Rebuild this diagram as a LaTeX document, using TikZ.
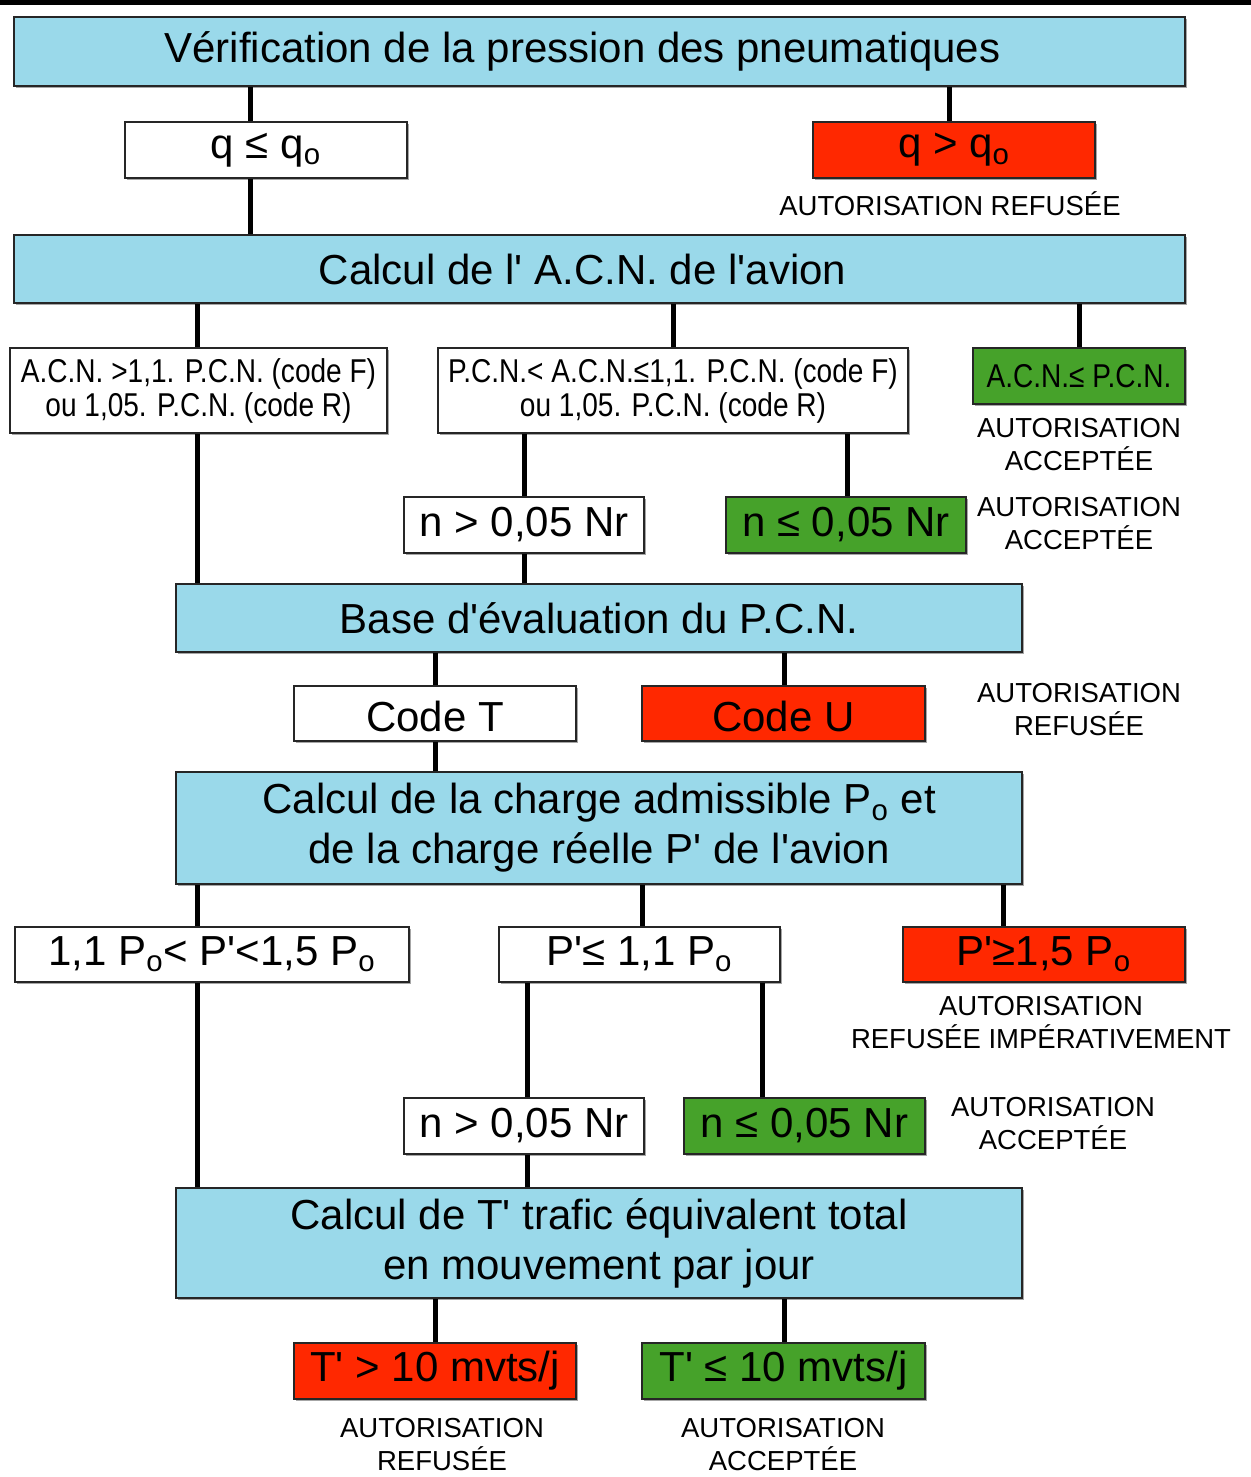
\documentclass[tikz,border=0pt]{standalone}
\usepackage{fontspec}
\newfontfamily\helv{Liberation Sans}
\newfontfamily\helvnarrow{Liberation Sans}[FakeStretch=0.85]
\usetikzlibrary{shadows}

\definecolor{titleblue}{RGB}{154,217,234}
\definecolor{refusred}{RGB}{255,40,0}
\definecolor{acceptgreen}{RGB}{70,162,42}

\tikzset{
  box/.style={draw=black!85, line width=1pt, inner sep=0pt, align=center,
    drop shadow={shadow xshift=0.8pt, shadow yshift=-0.8pt, fill=black!50, opacity=0.7}},
  wh/.style 2 args={minimum width=#1*0.5pt, minimum height=#2*0.5pt},
  titlebox/.style={box, fill=titleblue, font=\helv\fontsize{21}{25}\selectfont},
  cond/.style={box, fill=white, font=\helv\fontsize{21}{25}\selectfont},
  smallcond/.style={box, fill=white, font=\helvnarrow\fontsize{16.5}{17}\selectfont},
  refus/.style={fill=refusred},
  accept/.style={fill=acceptgreen},
  verdict/.style={align=center, inner sep=0pt, font=\helv\fontsize{13.75}{16.5}\selectfont},
  link/.style={line width=2.5pt}
}

\begin{document}
\begin{tikzpicture}[x=0.5pt, y=-0.5pt]
  \useasboundingbox (0,0) rectangle (1251,1477);
  % Top rule
  \fill[black] (0,0) rectangle (1251,5);

  % Tyre pressure
  \node[titlebox, wh={1171}{69}] (tit1) at (599.5,51.5) {\hspace*{-17pt}Vérification de la pression des pneumatiques};
  \node[cond, wh={282}{56}] (qle) at (266,150) {q ≤ q\textsubscript{o}};
  \node[cond, refus, wh={282}{56}] (qgt) at (954,150) {q > q\textsubscript{o}};
  \node[verdict] (v1) at (950,204) {AUTORISATION REFUSÉE};

  % A.C.N.
  \node[titlebox, wh={1171}{68}] (tit2) at (599.5,269) {\hspace*{-17pt}Calcul de l' A.C.N. de l'avion};
  \node[smallcond, wh={377}{85}] (acnA) at (198.5,390.5) {A.C.N. >1,1. P.C.N. (code F)\\ou 1,05. P.C.N. (code R)};
  \node[smallcond, wh={470}{85}] (acnB) at (673,390.5) {P.C.N.< A.C.N.≤1,1. P.C.N. (code F)\\ou 1,05. P.C.N. (code R)};
  \node[smallcond, accept, wh={212}{56}] (acnC) at (1079,376) {A.C.N.≤ P.C.N.};
  \node[verdict] (v2) at (1079,445) {AUTORISATION\\ACCEPTÉE};
  \node[cond, wh={240}{56}] (nA) at (524,525) {n > 0,05 Nr};
  \node[cond, accept, wh={240}{56}] (nB) at (846,525) {n ≤ 0,05 Nr};
  \node[verdict] (v3) at (1079,524) {AUTORISATION\\ACCEPTÉE};

  % P.C.N.
  \node[titlebox, wh={846}{68}] (tit3) at (599,618) {Base d'évaluation du P.C.N.};
  \node[cond, text height=18pt, wh={282}{55}] (codeT) at (435,713.5) {Code T};
  \node[cond, refus, text height=18pt, wh={283}{55}] (codeU) at (783.5,713.5) {Code U};
  \node[verdict] (v4) at (1079,710) {AUTORISATION\\REFUSÉE};

  % Loads
  \node[titlebox, wh={846}{112}] (tit4) at (599,828) {Calcul de la charge admissible P\textsubscript{o} et\\de la charge réelle P' de l'avion};
  \node[cond, wh={394}{55}] (pA) at (212,954.5) {1,1 P\textsubscript{o}< P'<1,5 P\textsubscript{o}};
  \node[cond, wh={281}{55}] (pB) at (639.5,954.5) {P'≤ 1,1 P\textsubscript{o}};
  \node[cond, refus, wh={282}{55}] (pC) at (1044,954.5) {P'≥1,5 P\textsubscript{o}};
  \node[verdict] (v5) at (1041,1023) {AUTORISATION\\REFUSÉE IMPÉRATIVEMENT};
  \node[cond, wh={240}{56}] (mA) at (524,1126) {n > 0,05 Nr};
  \node[cond, accept, wh={241}{56}] (mB) at (804.5,1126) {n ≤ 0,05 Nr};
  \node[verdict] (v6) at (1053,1124) {AUTORISATION\\ACCEPTÉE};

  % Traffic
  \node[titlebox, wh={846}{110}] (tit5) at (599,1243) {Calcul de T' trafic équivalent total\\en mouvement par jour};
  \node[cond, refus, wh={282}{56}] (tA) at (435,1371) {T' > 10 mvts/j};
  \node[cond, accept, wh={283}{56}] (tB) at (783.5,1371) {T' ≤ 10 mvts/j};
  \node[verdict] (v7) at (442,1445) {AUTORISATION\\REFUSÉE};
  \node[verdict] (v8) at (783,1445) {AUTORISATION\\ACCEPTÉE};

  % Links
  \foreach \a/\b/\x in {tit1/qle/250, tit1/qgt/949, qle/tit2/250,
      tit2/acnA/197, tit2/acnB/673, tit2/acnC/1079, acnA/tit3/197,
      acnB/nA/524, acnB/nB/847, nA/tit3/524,
      tit3/codeT/435, tit3/codeU/784, codeT/tit4/435,
      tit4/pA/197, tit4/pB/642, tit4/pC/1003, pA/tit5/197,
      pB/mA/527, pB/mB/762, mA/tit5/527,
      tit5/tA/435, tit5/tB/784}
    \draw[link] (\a.south -| \x,0) -- (\b.north -| \x,0);
\end{tikzpicture}
\end{document}
